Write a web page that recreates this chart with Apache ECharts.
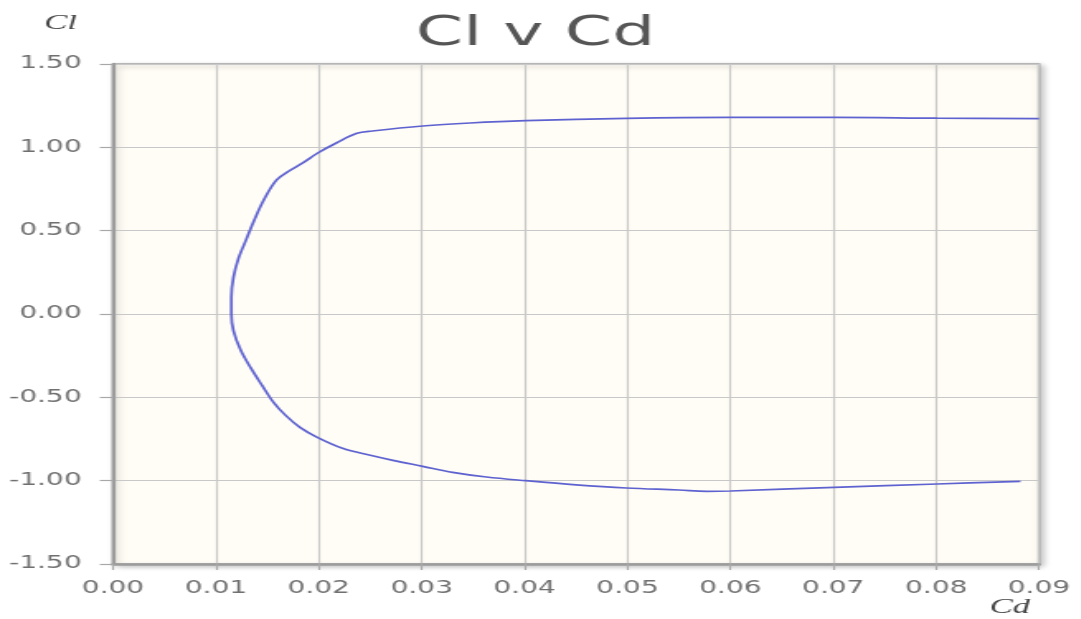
<!DOCTYPE html>
<html>
<head>
<meta charset="utf-8">
<script src="https://cdn.jsdelivr.net/npm/echarts@6/dist/echarts.min.js"></script>
<style>
  html, body { margin: 0; padding: 0; background: #ffffff; overflow: hidden; }
  #main { width: 655px; height: 619px; transform: scaleX(1.65); transform-origin: 0 0; }
</style>
</head>
<body>
<div id="main"></div>
<script>
// Polar data (ordered from lower branch right end, around the nose, to upper branch right end)
const cd = [0.0882, 0.0801, 0.0701, 0.0600, 0.0577, 0.0550, 0.0499, 0.0450, 0.0401, 0.0363,
            0.0330, 0.0301, 0.0272, 0.0250, 0.0223, 0.0199, 0.0182, 0.0168, 0.0156, 0.0145,
            0.0134, 0.0124, 0.0117, 0.0115, 0.0115, 0.0117, 0.0122, 0.0129, 0.0137, 0.0147,
            0.0159, 0.0171, 0.0184, 0.0199, 0.0217, 0.0237, 0.0252, 0.0301, 0.0347, 0.0401,
            0.0499, 0.0600, 0.0701, 0.0801, 0.0900];
const cl = [-1.004, -1.020, -1.040, -1.062, -1.064, -1.056, -1.044, -1.025, -1.000, -0.978,
            -0.950, -0.914, -0.878, -0.848, -0.806, -0.742, -0.682, -0.610, -0.530, -0.430,
            -0.325, -0.216, -0.100, 0.000, 0.100, 0.220, 0.335, 0.440, 0.560, 0.690,
            0.805, 0.858, 0.905, 0.966, 1.026, 1.084, 1.098, 1.128, 1.146, 1.160,
            1.174, 1.180, 1.180, 1.175, 1.172];

const xTicks = [0.00, 0.01, 0.02, 0.03, 0.04, 0.05, 0.06, 0.07, 0.08, 0.09];
const yTicks = [-1.50, -1.00, -0.50, 0.00, 0.50, 1.00, 1.50];

const titleText = 'Cl v Cd';
const xName = 'Cd';
const yName = 'Cl';

const points = cd.map((x, i) => [x, cl[i]]);

const labelFont = { fontFamily: 'DejaVu Sans', fontSize: 17, color: '#707070' };
const chart = echarts.init(document.getElementById('main'));
chart.setOption({
  animation: false,
  title: {
    text: titleText,
    left: 247,
    top: 9,
    textStyle: { fontFamily: 'DejaVu Sans', fontSize: 41, fontWeight: 'normal', color: '#555555' }
  },
  grid: {
    left: 68.5, right: 25.3, top: 64, bottom: 55,
    show: true,
    backgroundColor: '#fffdf5',
    borderColor: '#a3a3a3',
    borderWidth: 1.6,
    shadowColor: 'rgba(0,0,0,0.25)',
    shadowBlur: 5,
    shadowOffsetX: 2,
    shadowOffsetY: 2
  },
  xAxis: {
    type: 'value',
    min: xTicks[0],
    max: xTicks[xTicks.length - 1],
    interval: 0.01,
    name: xName,
    nameLocation: 'end',
    nameGap: -30,
    nameTextStyle: {
      fontFamily: 'Liberation Serif', fontStyle: 'italic', fontSize: 21, color: '#444444',
      verticalAlign: 'top', align: 'left', padding: [33, 0, 0, 0]
    },
    axisLine: { show: true, onZero: false, lineStyle: { color: '#9c9c9c', width: 2.6 } },
    axisTick: { show: true, inside: false, length: 6, lineStyle: { color: '#a8a8a8', width: 1.2 } },
    axisLabel: { ...labelFont, margin: 16, formatter: v => v.toFixed(2) },
    splitLine: { show: true, lineStyle: { color: '#c8c8c8', width: 1.2 } }
  },
  yAxis: {
    type: 'value',
    min: yTicks[0],
    max: yTicks[yTicks.length - 1],
    interval: 0.5,
    name: yName,
    nameLocation: 'end',
    nameGap: 30,
    nameTextStyle: {
      fontFamily: 'Liberation Serif', fontStyle: 'italic', fontSize: 21, color: '#444444',
      align: 'right', padding: [0, 22, 0, 0]
    },
    axisLine: { show: true, onZero: false, lineStyle: { color: '#9c9c9c', width: 2.4 } },
    axisTick: { show: true, inside: false, length: 8, lineStyle: { color: '#a8a8a8', width: 1.2 } },
    axisLabel: { ...labelFont, margin: 19, formatter: v => v.toFixed(2) },
    splitLine: { show: true, lineStyle: { color: '#c8c8c8', width: 1.2 } }
  },
  series: [{
    type: 'line',
    data: points,
    showSymbol: false,
    smooth: 0.35,
    clip: true,
    lineStyle: { color: '#5e62d0', width: 1.7 }
  }]
});
</script>
</body>
</html>
